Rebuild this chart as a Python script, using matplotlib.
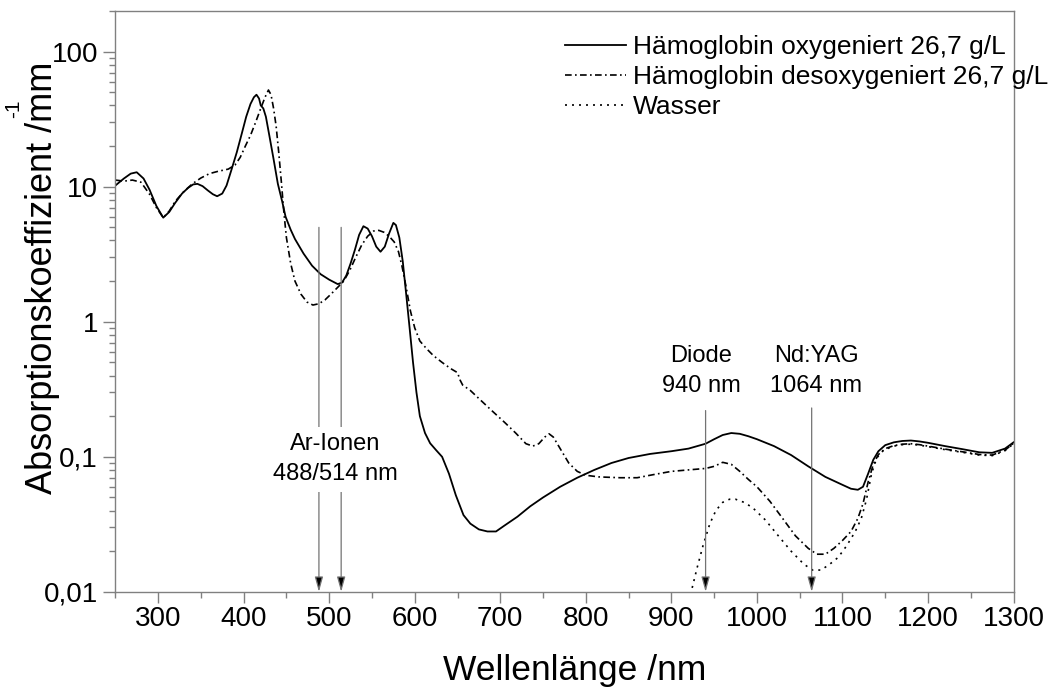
import numpy as np
import matplotlib.pyplot as plt
from matplotlib.ticker import FixedLocator, LogLocator, NullFormatter, MultipleLocator

plt.rcParams['font.family'] = ['Liberation Sans', 'DejaVu Sans']

# Hämoglobin oxygeniert (solid)
wl_oxy = [250, 260, 268, 275, 283, 290, 298, 306, 313, 320, 328, 335, 341, 346, 352, 358, 364, 369,
          375, 380, 386, 392, 398, 403, 408, 412, 415, 418, 420, 423, 426, 430, 435, 440, 445, 449,
          455, 460, 470, 480, 490, 500, 510, 515, 520, 525, 530, 535, 540, 545, 550, 555, 560, 565,
          570, 575, 578, 582, 586, 590, 594, 598, 602, 606, 612, 618, 625, 632, 640, 648, 657, 665,
          675, 685, 695, 705, 720, 735, 750, 770, 790, 810, 830, 850, 875, 900, 920, 940, 950, 960,
          970, 980, 990, 1000, 1020, 1040, 1060, 1080, 1100, 1110, 1118, 1124, 1130, 1136, 1142,
          1150, 1160, 1170, 1180, 1190, 1200, 1220, 1240, 1260, 1275, 1290, 1300]
mu_oxy = [10.2, 11.5, 12.5, 12.8, 11.5, 9.5, 7.2, 5.9, 6.5, 7.6, 8.9, 9.8, 10.4, 10.5, 10.1, 9.4, 8.8, 8.5,
          8.9, 10.2, 13.5, 18, 25, 33, 41, 46, 48, 45, 40, 38, 33, 24, 16, 10.5, 7.8, 6.0,
          4.8, 4.1, 3.2, 2.6, 2.25, 2.05, 1.9, 1.95, 2.2, 2.7, 3.4, 4.4, 5.1, 4.9, 4.3, 3.6, 3.3, 3.6,
          4.5, 5.4, 5.2, 4.2, 2.8, 1.6, 0.9, 0.5, 0.3, 0.2, 0.15, 0.126, 0.112, 0.1, 0.075, 0.052, 0.037, 0.032,
          0.029, 0.028, 0.028, 0.031, 0.036, 0.043, 0.05, 0.06, 0.07, 0.08, 0.09, 0.098, 0.105, 0.11, 0.115, 0.125, 0.135, 0.145,
          0.15, 0.148, 0.142, 0.135, 0.12, 0.103, 0.085, 0.071, 0.062, 0.058, 0.057, 0.06, 0.075, 0.095, 0.11,
          0.122, 0.128, 0.131, 0.132, 0.13, 0.127, 0.12, 0.114, 0.108, 0.107, 0.115, 0.128]

# Hämoglobin desoxygeniert (dash-dot)
wl_deoxy = [250, 260, 270, 280, 290, 298, 306, 313, 320, 330, 340, 350, 360, 370, 382, 390, 396, 402,
            408, 414, 420, 425, 429, 432, 435, 438, 441, 444, 447, 450, 455, 460, 467, 474, 481, 488,
            495, 502, 510, 517, 524, 531, 538, 545, 552, 558, 564, 570, 576, 581, 585, 590, 595, 600,
            606, 614, 622, 632, 642, 650, 653, 656, 665, 675, 690, 705, 718, 730, 738, 745, 752, 757,
            762, 770, 780, 790, 800, 815, 840, 860, 880, 900, 920, 940, 950, 960, 970, 980, 990, 1000,
            1015, 1030, 1045, 1060, 1070, 1080, 1090, 1100, 1110, 1118, 1124, 1130, 1136, 1142, 1150,
            1160, 1170, 1180, 1190, 1200, 1220, 1240, 1260, 1275, 1290, 1300]
mu_deoxy = [11.2, 11.0, 11.2, 10.8, 8.8, 7.0, 5.9, 6.6, 7.8, 9.2, 10.5, 11.6, 12.5, 13.0, 13.5, 14.5, 16.5, 20,
            24, 30, 38, 46, 52, 48, 38, 28, 18, 11, 6.5, 4.2, 2.7, 2.0, 1.6, 1.4, 1.33, 1.36,
            1.45, 1.6, 1.8, 2.0, 2.4, 3.0, 3.7, 4.3, 4.7, 4.75, 4.6, 4.3, 3.9, 3.3, 2.6, 1.8, 1.2, 0.9,
            0.72, 0.63, 0.56, 0.5, 0.45, 0.42, 0.37, 0.34, 0.31, 0.27, 0.22, 0.18, 0.15, 0.125, 0.12, 0.125, 0.14, 0.148,
            0.14, 0.115, 0.09, 0.078, 0.073, 0.071, 0.07, 0.07, 0.074, 0.078, 0.08, 0.082, 0.085, 0.091, 0.088, 0.078, 0.068, 0.06,
            0.047, 0.035, 0.026, 0.021, 0.019, 0.019, 0.021, 0.024, 0.028, 0.035, 0.045, 0.065, 0.088, 0.104, 0.115,
            0.121, 0.124, 0.125, 0.123, 0.12, 0.114, 0.109, 0.104, 0.103, 0.112, 0.126]

# Wasser (dotted)
wl_water = [920, 923, 930, 937, 945, 952, 960, 968, 975, 985, 995, 1010, 1025, 1040, 1055, 1065, 1075,
            1085, 1095, 1105, 1115, 1122, 1128, 1134, 1140, 1148, 1160, 1170, 1180, 1190, 1200, 1220,
            1240, 1260, 1275, 1290, 1300]
mu_water = [0.0085, 0.0099, 0.015, 0.022, 0.032, 0.040, 0.046, 0.0485, 0.0485, 0.046, 0.042, 0.034, 0.026,
            0.02, 0.016, 0.0145, 0.0145, 0.016, 0.018, 0.022, 0.028, 0.035, 0.048, 0.075, 0.098, 0.112,
            0.12, 0.123, 0.124, 0.122, 0.119, 0.113, 0.108, 0.103, 0.102, 0.111, 0.125]

# laser lines: wavelength, arrow start value
laser_wl = [488, 514, 940, 1064]
laser_top = [5.0, 5.0, 0.22, 0.23]

fig = plt.figure(figsize=(10.58, 6.89), dpi=100)
ax = fig.add_axes([0.109, 0.141, 0.849, 0.843])

ax.plot(wl_oxy, mu_oxy, color='black', lw=1.3, label='Hämoglobin oxygeniert 26,7 g/L')
ax.plot(wl_deoxy, mu_deoxy, color='black', lw=1.2, linestyle=(0, (4, 2, 1, 2)),
        label='Hämoglobin desoxygeniert 26,7 g/L')
ax.plot(wl_water, mu_water, color='black', lw=1.2, linestyle=(0, (1.2, 3)), label='Wasser')

for wl, top in zip(laser_wl, laser_top):
    ax.annotate('', xy=(wl, 0.01), xytext=(wl, top),
                arrowprops=dict(arrowstyle='-|>,head_length=0.9,head_width=0.25',
                                fc='black', ec='0.45', lw=0.9, shrinkA=0, shrinkB=0))

ax.text(507, 0.096, 'Ar-Ionen\n488/514 nm', ha='center', va='center', fontsize=17,
        linespacing=1.45, bbox=dict(facecolor='white', edgecolor='none', pad=5))
ax.text(935, 0.43, 'Diode\n940 nm', ha='center', va='center', fontsize=17, linespacing=1.45)
ax.text(1069, 0.43, 'Nd:YAG\n1064 nm', ha='center', va='center', fontsize=17, linespacing=1.45)

ax.set_yscale('log')
ax.set_xlim(250, 1300)
ax.set_ylim(0.01, 200)
ax.xaxis.set_major_locator(MultipleLocator(100))
ax.xaxis.set_minor_locator(MultipleLocator(50))
ax.set_xticks([300, 400, 500, 600, 700, 800, 900, 1000, 1100, 1200, 1300])
ax.yaxis.set_major_locator(FixedLocator([0.01, 0.1, 1, 10, 100]))
ax.set_yticklabels(['0,01', '0,1', '1', '10', '100'])
ax.yaxis.set_minor_locator(LogLocator(base=10, subs=np.arange(2, 10)))
ax.yaxis.set_minor_formatter(NullFormatter())

for sp in ax.spines.values():
    sp.set_color('0.5')
    sp.set_linewidth(1.0)
ax.tick_params(which='both', direction='out', color='0.5')
ax.tick_params(axis='y', which='major', length=9, width=1.0)
ax.tick_params(axis='x', which='major', length=8, width=1.0)
ax.tick_params(which='minor', length=4, width=1.0)
ax.tick_params(axis='x', labelsize=20, pad=2)
ax.tick_params(axis='y', labelsize=20, pad=3.5)

ax.set_xlabel('Wellenlänge /nm', fontsize=25.5, va='baseline')
ax.xaxis.set_label_coords(0.511, -0.152)
ax.set_ylabel('Absorptionskoeffizient /mm', fontsize=26, va='baseline')
ax.yaxis.set_label_coords(-0.070, 0.541)
fig.text(0.0125, 0.842, '-1', rotation=90, fontsize=15, ha='center', va='center')

ax.legend(loc='upper left', bbox_to_anchor=(0.501, 0.958), frameon=False, fontsize=19,
          handlelength=2.3, handletextpad=0.25, labelspacing=0.215, borderaxespad=0, borderpad=0)

plt.savefig('out.png', dpi=100)
